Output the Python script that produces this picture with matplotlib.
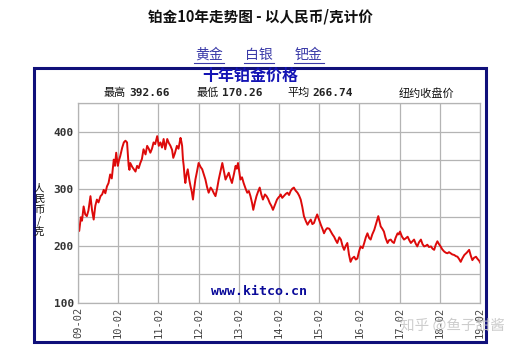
import matplotlib
matplotlib.use("Agg")
import matplotlib.pyplot as plt
from matplotlib.patches import Rectangle
from matplotlib.lines import Line2D

plt.rcParams['font.family'] = ['Noto Sans CJK SC', 'DejaVu Sans']

# years since 2009-02 and price (RMB / gram)
t_years = [0.00, 0.03, 0.07, 0.10, 0.14, 0.18, 0.22, 0.26, 0.31, 0.35, 0.39, 0.43, 0.47, 0.51, 0.56, 0.60,
           0.64, 0.68, 0.72, 0.76, 0.80, 0.84, 0.89, 0.92, 0.95, 0.97, 0.99, 1.02, 1.05, 1.10, 1.14, 1.18,
           1.22, 1.24, 1.26, 1.28, 1.30, 1.35, 1.39, 1.43, 1.47, 1.51, 1.55, 1.59, 1.63, 1.68, 1.72, 1.76,
           1.80, 1.84, 1.88, 1.92, 1.97, 2.01, 2.05, 2.09, 2.13, 2.15, 2.17, 2.20, 2.22, 2.26, 2.30, 2.34,
           2.37, 2.41, 2.46, 2.50, 2.55, 2.57, 2.59, 2.61, 2.63, 2.65, 2.67, 2.70, 2.73, 2.77, 2.80, 2.83,
           2.86, 2.89, 2.92, 2.96, 3.00, 3.05, 3.09, 3.13, 3.17, 3.21, 3.25, 3.30, 3.34, 3.38, 3.42, 3.46,
           3.50, 3.55, 3.59, 3.63, 3.67, 3.71, 3.75, 3.79, 3.83, 3.88, 3.92, 3.95, 3.98, 4.01, 4.04, 4.08,
           4.12, 4.17, 4.21, 4.25, 4.29, 4.33, 4.36, 4.40, 4.44, 4.48, 4.52, 4.56, 4.60, 4.65, 4.69, 4.73,
           4.77, 4.81, 4.85, 4.90, 4.95, 4.99, 5.02, 5.04, 5.08, 5.12, 5.17, 5.21, 5.25, 5.29, 5.33, 5.37,
           5.41, 5.46, 5.50, 5.54, 5.58, 5.62, 5.67, 5.71, 5.75, 5.79, 5.83, 5.87, 5.91, 5.95, 6.00, 6.04,
           6.08, 6.12, 6.16, 6.20, 6.25, 6.29, 6.33, 6.37, 6.41, 6.45, 6.50, 6.54, 6.58, 6.62, 6.66, 6.70,
           6.74, 6.78, 6.82, 6.87, 6.91, 6.95, 6.99, 7.03, 7.08, 7.12, 7.16, 7.20, 7.24, 7.28, 7.32, 7.37,
           7.42, 7.47, 7.50, 7.53, 7.57, 7.61, 7.65, 7.70, 7.74, 7.78, 7.82, 7.86, 7.90, 7.95, 7.98, 8.01,
           8.06, 8.11, 8.15, 8.20, 8.24, 8.28, 8.32, 8.36, 8.40, 8.44, 8.48, 8.53, 8.57, 8.61, 8.65, 8.69,
           8.73, 8.78, 8.82, 8.86, 8.90, 8.94, 8.98, 9.02, 9.06, 9.11, 9.15, 9.19, 9.23, 9.27, 9.31, 9.36,
           9.40, 9.44, 9.48, 9.52, 9.56, 9.61, 9.67, 9.73, 9.77, 9.81, 9.85, 9.90, 9.94, 9.98, 10.00]
price = [237, 226, 250, 244, 269, 255, 252, 262, 287, 262, 246, 270, 281, 276, 287, 290,
         298, 292, 304, 310, 325, 318, 351, 340, 363, 352, 340, 350, 357, 372, 381, 384,
         381, 360, 340, 333, 345, 338, 334, 330, 340, 336, 345, 352, 369, 360, 375, 370,
         363, 370, 381, 378, 392, 375, 381, 372, 387, 378, 369, 380, 387, 380, 375, 368,
         354, 362, 375, 370, 389, 383, 375, 352, 340, 322, 310, 325, 334, 315, 304, 295,
         281, 300, 316, 330, 345, 338, 334, 325, 316, 303, 293, 302, 298, 292, 287, 300,
         316, 332, 345, 330, 316, 322, 328, 318, 310, 326, 340, 335, 345, 330, 316, 320,
         310, 300, 293, 296, 287, 275, 263, 276, 287, 295, 302, 290, 281, 290, 287, 282,
         275, 270, 263, 272, 281, 285, 287, 290, 284, 287, 291, 293, 289, 296, 300, 302,
         297, 293, 288, 281, 268, 252, 243, 237, 242, 246, 238, 240, 248, 255, 245, 237,
         230, 222, 228, 231, 230, 225, 220, 216, 210, 205, 215, 211, 200, 193, 200, 205,
         185, 172, 178, 181, 176, 178, 190, 199, 196, 205, 215, 222, 214, 211, 220, 228,
         240, 252, 243, 234, 230, 225, 214, 205, 210, 211, 207, 205, 214, 222, 220, 225,
         216, 211, 213, 216, 210, 205, 208, 211, 204, 199, 206, 211, 203, 199, 200, 202,
         198, 199, 195, 193, 202, 208, 203, 199, 194, 190, 188, 187, 189, 187, 185, 184,
         182, 181, 177, 172, 178, 184, 188, 193, 183, 175, 179, 181, 177, 174, 171]

x_labels = ['09-02', '10-02', '11-02', '12-02', '13-02', '14-02', '15-02',
            '16-02', '17-02', '18-02', '19-02']
stats = [('最高', '392.66'), ('最低', '170.26'), ('平均', '266.74')]
links = ['黄金', '白银', '钯金']
y_label = '人民币/克'

W, H = 520, 352
fig = plt.figure(figsize=(W / 100, H / 100), dpi=100)
fig.patch.set_facecolor('white')

def fx(px):
    return px / W

def fy(py):
    return 1 - py / H

# page title
fig.text(fx(260), fy(16), '铂金10年走势图 - 以人民币/克计价', ha='center', va='center',
         fontsize=10.5, fontweight='bold', color='#111111')

# links
link_x = [209, 259, 309]
for lx, name in zip(link_x, links):
    fig.text(fx(lx), fy(55), name, ha='center', va='center', fontsize=10, color='#3a3aa8')
    fig.add_artist(Line2D([fx(lx - 15), fx(lx + 15)], [fy(63), fy(63)], color='#3a3aa8', lw=0.8))

# navy frame
fig.add_artist(Rectangle((fx(34), fy(342)), fx(486) - fx(34), fy(68) - fy(342),
                         transform=fig.transFigure, fill=False, edgecolor='#10107a', lw=2.2))

fig.text(fx(250), fy(76), '十年铂金价格', ha='center', va='center', fontsize=11.5,
         fontweight='bold', color='#1414b4')

stat_x = [104, 197, 287]
for sx, (name, val) in zip(stat_x, stats):
    fig.text(fx(sx), fy(93), name, ha='left', va='center', fontsize=8, color='#111111')
    fig.text(fx(sx + 25), fy(93), val, ha='left', va='center', fontsize=8,
             family='DejaVu Sans Mono', fontweight='bold', color='#222222')
fig.text(fx(399), fy(93), '纽约收盘价', ha='left', va='center', fontsize=8, color='#111111')

# chart area
ax = fig.add_axes([fx(78), fy(303), fx(480) - fx(78), fy(103) - fy(303)])
ax.set_facecolor('white')
ax.plot(t_years, price, color='#dd0a0a', lw=1.4)
ax.set_xlim(0, 10)
ax.set_ylim(100, 450)
ax.set_xticks(range(len(x_labels)))
ax.set_xticklabels(x_labels, rotation=90, family='DejaVu Sans Mono', fontsize=7.5, color='#444444')
ax.set_yticks(range(100, 451, 50))
ax.set_yticklabels(['100', '', '200', '', '300', '', '400', ''], family='DejaVu Sans Mono',
                   fontsize=8, fontweight='bold', color='#333333')
ax.tick_params(length=0, pad=3)
ax.grid(True, color='#b4b4b4', lw=0.9)
ax.set_axisbelow(True)
for s in ax.spines.values():
    s.set_color('#b4b4b4')
    s.set_linewidth(0.9)

# vertical axis title, one character per line
for i, ch in enumerate(y_label):
    fig.text(fx(39), fy(188 + i * 11), ch, ha='center', va='center', fontsize=7.5,
             color='#111111')

ax.text(0.45, 0.025, 'www.kitco.cn', transform=ax.transAxes, ha='center', va='bottom',
        family='DejaVu Sans Mono', fontweight='bold', fontsize=9.5, color='#0a0a9a')

# watermark
fig.text(fx(452), fy(326), '知乎 @鱼子甜酱', ha='center', va='center', fontsize=10.5,
         color='#c8c8c8', alpha=0.9)

fig.savefig('out.png', dpi=100, facecolor='white')
